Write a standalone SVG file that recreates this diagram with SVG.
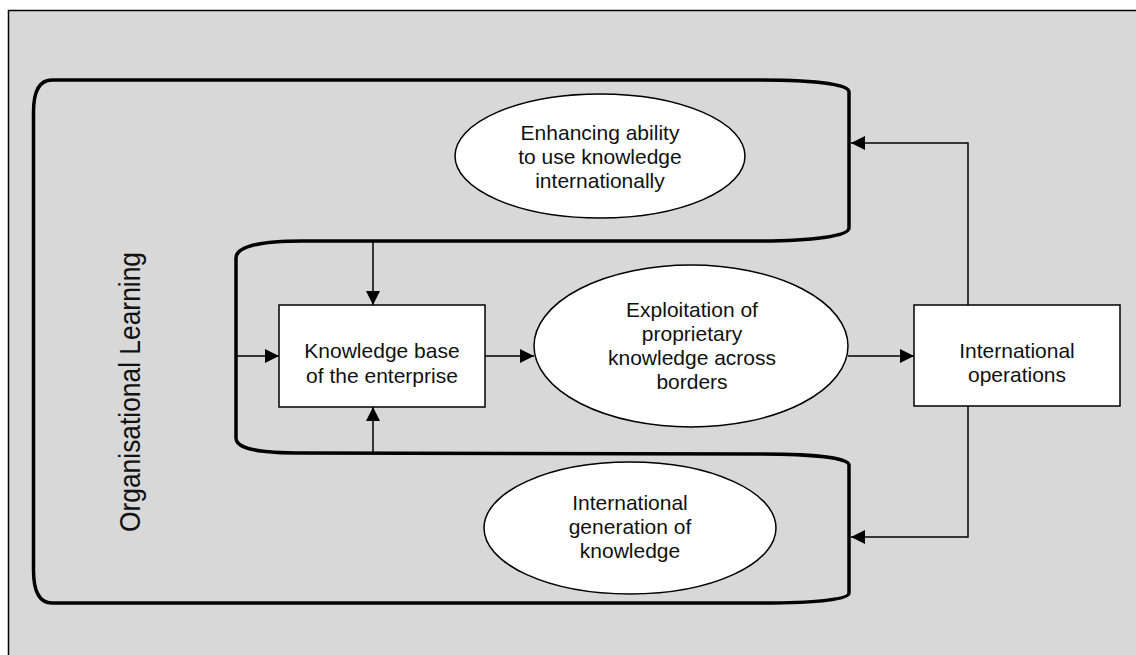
<svg xmlns="http://www.w3.org/2000/svg" width="1136" height="655" viewBox="0 0 1136 655">
<style>
.bg{fill:#d8d8d8;stroke:#000;stroke-width:1.5}
.loop{fill:none;stroke:#000;stroke-width:3.5}
.node{fill:#fff;stroke:#000;stroke-width:1.5}
.conn{fill:none;stroke:#000;stroke-width:1.5}
.lbl{font-family:"Liberation Sans",Arial,sans-serif;font-size:21px;fill:#111;text-anchor:middle}
.vlbl{font-family:"Liberation Sans",Arial,sans-serif;font-size:29px;fill:#111;text-anchor:middle}
</style>
<defs>
<marker id="ah" viewBox="0 0 14 14" refX="14" refY="7" markerWidth="14" markerHeight="14" markerUnits="userSpaceOnUse" orient="auto">
<path d="M0,0 L14,7 L0,14 z" fill="#000"/>
</marker>
</defs>
<rect class="bg" x="8.5" y="10.5" width="1140" height="660"/>
<g id="organisational-learning">
<path class="loop" d="M52,80 L760,80 C812,80 849,84 849,92 L849,228 C849,236 812,241 760,241 L303,241 C258,241 236,247 236,258 L236,438 C236,449 258,453 303,453 L760,454 C812,454 849,458 849,465 L849,593 C849,600 812,603 760,603 L52,603 C40,603 33.5,592 33.5,570 L33.5,112 C33.5,90 40,80 52,80 Z"/>
<text class="vlbl" transform="translate(140,392) rotate(-90)" textLength="280" lengthAdjust="spacingAndGlyphs">Organisational Learning</text>
</g>
<g id="enhancing">
<ellipse class="node" cx="600" cy="156" rx="145" ry="62"/>
<text class="lbl" x="600" y="140">Enhancing ability</text>
<text class="lbl" x="600" y="164">to use knowledge</text>
<text class="lbl" x="600" y="188">internationally</text>
</g>
<g id="knowledge-base">
<rect class="node" x="279" y="305" width="206" height="102"/>
<text class="lbl" x="382" y="358">Knowledge base</text>
<text class="lbl" x="382" y="383">of the enterprise</text>
</g>
<g id="exploitation">
<ellipse class="node" cx="691" cy="346" rx="157" ry="81"/>
<text class="lbl" x="692" y="317">Exploitation of</text>
<text class="lbl" x="692" y="341">proprietary</text>
<text class="lbl" x="692" y="365">knowledge across</text>
<text class="lbl" x="692" y="389">borders</text>
</g>
<g id="international-operations">
<rect class="node" x="914" y="305" width="206" height="101"/>
<text class="lbl" x="1017" y="358">International</text>
<text class="lbl" x="1017" y="382">operations</text>
</g>
<g id="generation">
<ellipse class="node" cx="630" cy="528" rx="146" ry="66"/>
<text class="lbl" x="630" y="510">International</text>
<text class="lbl" x="630" y="534">generation of</text>
<text class="lbl" x="630" y="558">knowledge</text>
</g>
<g id="connectors">
<path class="conn" d="M968,305 L968,143 L851,143" marker-end="url(#ah)"/>
<path class="conn" d="M968,406 L968,537 L851,537" marker-end="url(#ah)"/>
<path class="conn" d="M373,241 L373,305" marker-end="url(#ah)"/>
<path class="conn" d="M373,453 L373,407" marker-end="url(#ah)"/>
<path class="conn" d="M236,356 L279,356" marker-end="url(#ah)"/>
<path class="conn" d="M485,356 L534,356" marker-end="url(#ah)"/>
<path class="conn" d="M848,356 L914,356" marker-end="url(#ah)"/>
</g>
</svg>
